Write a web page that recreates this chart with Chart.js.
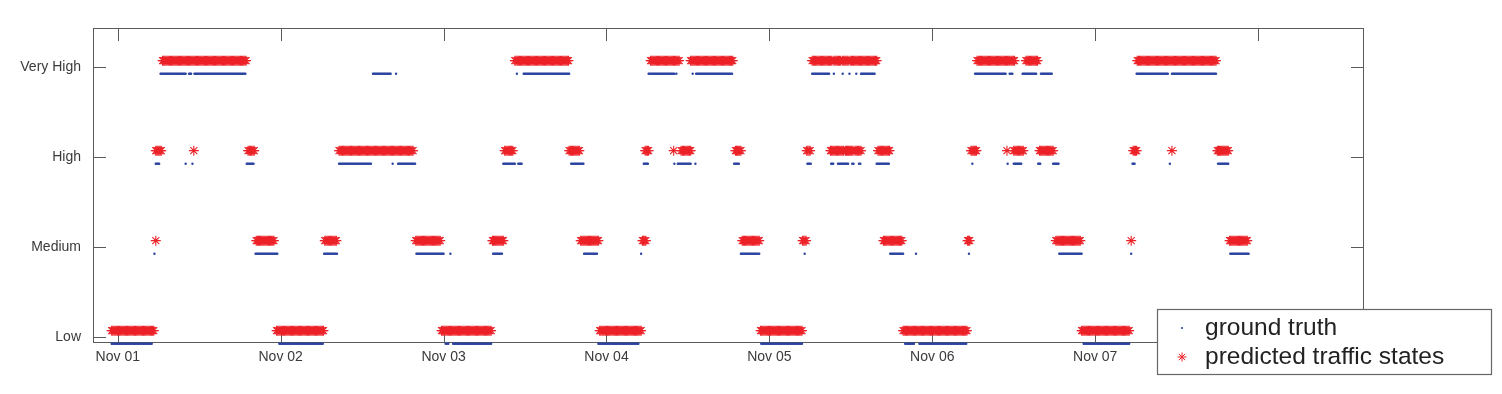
<!DOCTYPE html>
<html>
<head>
<meta charset="utf-8">
<script src="https://cdn.jsdelivr.net/npm/chart.js@4.4.1/dist/chart.umd.min.js"></script>
<style>
  body { margin: 0; background: #fff; }
  #wrap { width: 1502px; height: 394px; }
</style>
</head>
<body>
<div id="wrap"><canvas id="stateChart" width="1502" height="394"></canvas></div>
<script>
// traffic state levels and day ticks (x is hours from Nov 01 00:00)
const levelNames = ['Low', 'Medium', 'High', 'Very High'];
const dayLabels = ['Nov 01', 'Nov 02', 'Nov 03', 'Nov 04', 'Nov 05', 'Nov 06', 'Nov 07', 'Nov 08'];

// predicted traffic states: [start hour, end hour] runs for each level
const predLow = [[-0.9, 5.3], [23.4, 30.3], [47.7, 55.0], [71.0, 77.1], [94.7, 100.8], [115.7, 125.1], [142.0, 149.0]];
const predMedium = [[5.6, 5.6], [20.4, 23.0], [30.5, 32.2], [43.9, 47.5], [55.2, 56.8], [68.2, 70.8], [77.3, 77.8],
  [92.0, 94.5], [100.9, 101.4], [112.8, 115.5], [125.2, 125.5], [138.2, 141.8], [149.3, 149.3], [163.8, 166.4]];
const predHigh = [[5.6, 6.4], [11.2, 11.2], [19.2, 20.1], [32.6, 43.5], [57.0, 58.2], [66.5, 68.0], [77.7, 78.2],
  [81.9, 81.9], [83.0, 84.4], [91.0, 91.8], [101.5, 102.0], [105.0, 106.9], [107.2, 108.3], [108.6, 109.5],
  [112.0, 113.7], [125.7, 126.5], [131.0, 131.0], [132.0, 133.4], [135.8, 137.8], [149.6, 150.1], [155.3, 155.3],
  [162.0, 163.6]];
const predVeryHigh = [[6.6, 18.9], [58.5, 66.4], [78.5, 82.7], [84.4, 90.6], [102.3, 105.2], [105.5, 106.5],
  [106.8, 107.6], [107.9, 111.8], [126.6, 132.1], [133.8, 135.5], [150.2, 161.8]];

// ground truth runs
const truthLow = [[-0.9, 5.0], [23.8, 30.2], [48.3, 48.7], [49.4, 55.0], [70.8, 76.7], [94.8, 100.8],
  [116.0, 117.3], [118.1, 125.0], [142.3, 149.0]];
const truthMedium = [[5.4, 5.4], [20.3, 23.5], [30.4, 32.3], [44.0, 48.0], [49.0, 49.0], [55.3, 56.6],
  [68.7, 70.6], [77.1, 77.1], [91.8, 94.5], [101.2, 101.2], [113.8, 115.7], [117.6, 117.6], [125.4, 125.4],
  [138.7, 142.0], [149.3, 149.3], [163.9, 166.6]];
const truthHigh = [[5.6, 6.1], [10.0, 10.0], [11.0, 11.0], [19.0, 20.0], [32.6, 37.3], [40.5, 40.5], [41.3, 43.8],
  [56.8, 58.5], [59.0, 59.5], [66.8, 68.6], [77.5, 78.1], [82.0, 82.0], [82.5, 84.4], [85.1, 85.1], [90.8, 91.5],
  [101.6, 102.1], [105.1, 105.4], [106.1, 107.6], [108.2, 108.4], [109.2, 109.4], [111.8, 113.6], [125.9, 125.9],
  [131.1, 131.1], [132.0, 133.1], [135.6, 135.9], [137.8, 138.6], [149.5, 149.8], [155.0, 155.0], [162.1, 163.6]];
const truthVeryHigh = [[6.3, 10.0], [10.5, 10.8], [11.3, 18.8], [37.6, 40.2], [41.0, 41.0], [58.8, 58.8],
  [59.8, 66.5], [78.2, 82.0], [82.3, 82.3], [84.7, 84.7], [85.2, 90.5], [102.3, 104.8], [105.5, 105.5],
  [106.8, 106.8], [107.8, 107.8], [108.8, 108.8], [109.5, 111.5], [126.3, 130.8], [131.4, 131.8], [133.3, 135.3],
  [136.0, 137.6], [150.1, 154.7], [155.3, 161.8]];

const SAMPLE_STEP = 1 / 6;   // 10 minute samples
const RED = '#ec2228';
const BLUE = '#2b44a0';
const TEXT = '#3a3a3a';

// turn the runs of one series into sampled points; small vertical shift keeps
// the two series apart like the original figure
function samples(runsByLevel, shift) {
  const pts = [];
  runsByLevel.forEach((runs, level) => {
    runs.forEach(([a, b]) => {
      const n = Math.max(0, Math.round((b - a) / SAMPLE_STEP));
      for (let i = 0; i <= n; i++) {
        pts.push({ x: n ? a + (b - a) * i / n : a, y: level + shift });
      }
    });
  });
  return pts;
}

const truthPts = samples([truthLow, truthMedium, truthHigh, truthVeryHigh], -0.075);
const predPts = samples([predLow, predMedium, predHigh, predVeryHigh], 0.07);

// box around the plot with inward tick marks on all four sides
const frameBox = {
  id: 'frameBox',
  beforeDatasetsDraw(chart) {
    const { ctx, chartArea: a, scales: { x, y } } = chart;
    const len = 13;
    ctx.save();
    ctx.strokeStyle = '#5a5a5a';
    ctx.lineWidth = 1;
    ctx.strokeRect(a.left + 0.5, a.top + 0.5, a.right - a.left - 1, a.bottom - a.top - 1);
    ctx.beginPath();
    x.ticks.forEach(t => {
      const px = Math.round(x.getPixelForValue(t.value)) + 0.5;
      ctx.moveTo(px, a.bottom); ctx.lineTo(px, a.bottom - len);
      ctx.moveTo(px, a.top); ctx.lineTo(px, a.top + len);
    });
    y.ticks.forEach(t => {
      const py = Math.round(y.getPixelForValue(t.value)) + 0.5;
      ctx.moveTo(a.left, py); ctx.lineTo(a.left + len, py);
      ctx.moveTo(a.right, py); ctx.lineTo(a.right - len, py);
    });
    ctx.stroke();
    ctx.restore();
  }
};

// legend box sitting over the lower right corner
const cornerLegend = {
  id: 'cornerLegend',
  afterDraw(chart) {
    const ctx = chart.ctx;
    const bx = 1157, by = 309, bw = 334, bh = 65;
    ctx.save();
    ctx.fillStyle = '#fff';
    ctx.fillRect(bx, by, bw, bh);
    ctx.strokeStyle = '#666';
    ctx.lineWidth = 1.2;
    ctx.strokeRect(bx + 0.5, by + 0.5, bw, bh);

    const rows = [328, 357];
    chart.data.datasets.forEach((ds, i) => {
      if (i === 0) {
        ctx.fillStyle = ds.backgroundColor;
        ctx.beginPath(); ctx.arc(1182, rows[i], 1.1, 0, Math.PI * 2); ctx.fill();
      } else {
        ctx.strokeStyle = ds.borderColor;
        ctx.lineWidth = 1;
        Chart.helpers.drawPoint(ctx, { pointStyle: 'star', radius: 4.5, borderWidth: 1 }, 1182, rows[i]);
      }
      ctx.fillStyle = '#222';
      ctx.font = '24.5px "Liberation Sans", Arial, sans-serif';
      ctx.textBaseline = 'middle';
      ctx.fillText(ds.label, 1205, rows[i]);
    });
    ctx.restore();
  }
};

new Chart(document.getElementById('stateChart'), {
  type: 'scatter',
  data: {
    datasets: [
      {
        label: 'ground truth',
        data: truthPts,
        pointStyle: 'circle',
        pointRadius: 1.2,
        borderWidth: 0,
        backgroundColor: BLUE,
        borderColor: BLUE,
        clip: false
      },
      {
        label: 'predicted traffic states',
        data: predPts,
        pointStyle: 'star',
        pointRadius: 5,
        borderWidth: 1.1,
        borderColor: RED,
        backgroundColor: RED,
        clip: false
      }
    ]
  },
  options: {
    responsive: false,
    animation: false,
    events: [],
    layout: { padding: { top: 28, right: 138, left: 0, bottom: 0 } },
    plugins: {
      legend: { display: false },
      tooltip: { enabled: false }
    },
    scales: {
      x: {
        type: 'linear',
        min: -3.65,
        max: 183.6,
        afterBuildTicks: s => { s.ticks = dayLabels.map((_, i) => ({ value: i * 24 })); },
        afterFit: s => { s.height = 51; },
        grid: { display: false, drawTicks: false },
        border: { display: false },
        ticks: {
          padding: 6,
          color: TEXT,
          font: { family: '"Liberation Sans", Arial, sans-serif', size: 14 },
          maxRotation: 0,
          autoSkip: false,
          callback: v => dayLabels[Math.round(v / 24)]
        }
      },
      y: {
        type: 'linear',
        min: -0.067,
        max: 3.433,
        afterBuildTicks: s => { s.ticks = levelNames.map((_, i) => ({ value: i })); },
        afterFit: s => { s.width = 93; },
        grid: { display: false, drawTicks: false },
        border: { display: false },
        ticks: {
          padding: 12,
          color: TEXT,
          font: { family: '"Liberation Sans", Arial, sans-serif', size: 14 },
          callback: v => levelNames[Math.round(v)]
        }
      }
    }
  },
  plugins: [frameBox, cornerLegend]
});
</script>
</body>
</html>
